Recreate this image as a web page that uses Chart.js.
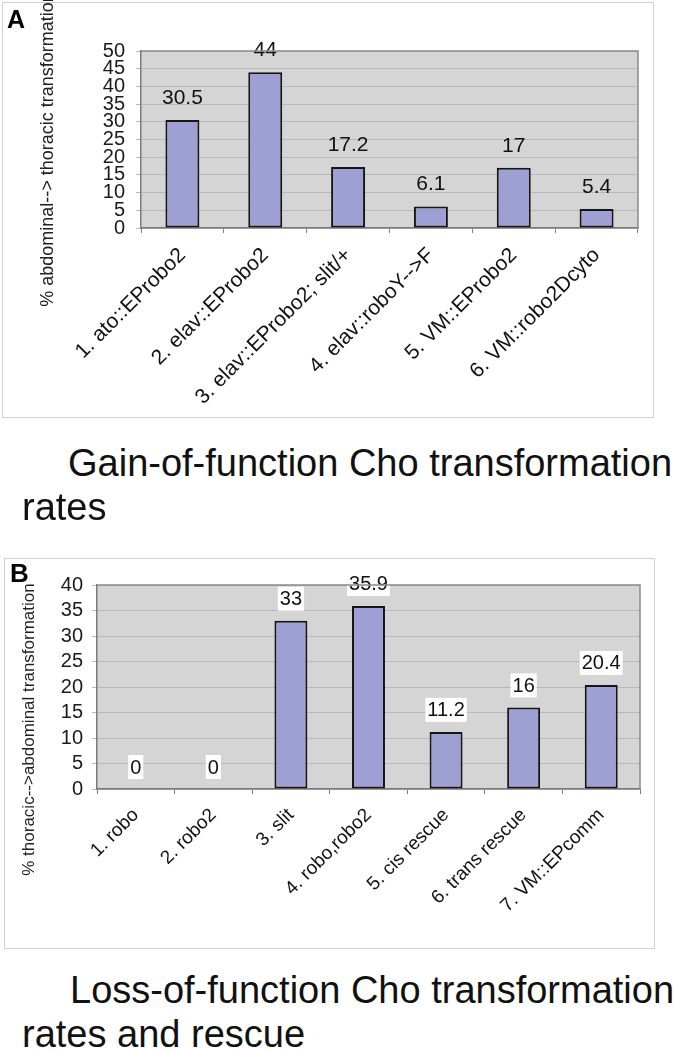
<!DOCTYPE html>
<html><head><meta charset="utf-8">
<script src="https://cdn.jsdelivr.net/npm/chart.js@4.4.1/dist/chart.umd.min.js"></script>
<style>
html,body{margin:0;padding:0;background:#fff;}
body{width:674px;height:1050px;position:relative;overflow:hidden;font-family:"Liberation Sans",Arial,sans-serif;}
.frame{position:absolute;border:1.5px solid #d2d2d2;}
canvas{position:absolute;left:0;}
.cap{position:absolute;font-size:38px;color:#111;white-space:nowrap;line-height:1;}
.panel{position:absolute;font-weight:bold;line-height:1;color:#000;}
</style></head><body>
<div class="frame" style="left:2px;top:2px;width:650px;height:414px"></div>
<div class="frame" style="left:4px;top:558px;width:649px;height:389px"></div>
<canvas id="cA" width="674" height="420" style="top:0"></canvas>
<canvas id="cB" width="674" height="394" style="top:556px"></canvas>
<div class="panel" style="left:7px;top:7px;font-size:25px">A</div>
<div class="panel" style="left:10px;top:560px;font-size:26px">B</div>
<div class="cap" style="left:68px;top:444px">Gain-of-function Cho transformation</div>
<div class="cap" style="left:22px;top:488px">rates</div>
<div class="cap" style="left:70px;top:971px">Loss-of-function Cho transformation</div>
<div class="cap" style="left:22px;top:1015px">rates and rescue</div>
<script>
// ---- data ----
const categoriesA = ['1. ato::EProbo2','2. elav::EProbo2','3. elav::EProbo2; slit/+','4. elav::roboY-->F','5. VM::EProbo2','6. VM::robo2Dcyto'];
const valuesA = [30.5, 44, 17.2, 6.1, 17, 5.4];
const yMinA = 0, yMaxA = 50, yStepA = 5;
const yTitleA = '% abdominal--> thoracic transformation';

const categoriesB = ['1. robo','2. robo2','3. slit','4. robo,robo2','5. cis rescue','6. trans rescue','7. VM::EPcomm'];
const valuesB = [0, 0, 33, 35.9, 11.2, 16, 20.4];
const yMinB = 0, yMaxB = 40, yStepB = 5;
const yTitleB = '% thoracic-->abdominal transformation';

Chart.defaults.font.family = '"Liberation Sans", Arial, sans-serif';
Chart.defaults.color = '#111';

const NB = '\u00a0';

const plotBg = {
  id: 'plotBg',
  beforeDraw(chart) {
    const {ctx, chartArea: a} = chart;
    ctx.save();
    ctx.fillStyle = '#d5d5d5';
    ctx.fillRect(a.left, a.top, a.right - a.left, a.bottom - a.top);
    ctx.restore();
  },
  afterDraw(chart) {
    const {ctx, chartArea: a} = chart;
    ctx.save();
    ctx.strokeStyle = '#8a8a8a';
    ctx.lineWidth = 1.5;
    ctx.beginPath();
    ctx.moveTo(a.left, a.top); ctx.lineTo(a.right, a.top); ctx.lineTo(a.right, a.bottom);
    ctx.stroke();
    ctx.restore();
  }
};

const valueLabels = {
  id: 'valueLabels',
  afterDatasetsDraw(chart, args, opts) {
    const {ctx} = chart;
    const meta = chart.getDatasetMeta(0);
    const data = chart.data.datasets[0].data;
    ctx.save();
    ctx.font = opts.size + 'px "Liberation Sans", Arial, sans-serif';
    ctx.textAlign = 'center';
    ctx.textBaseline = 'middle';
    meta.data.forEach((bar, i) => {
      const txt = String(data[i]);
      const y = bar.y - opts.offset;
      if (opts.box) {
        const w = ctx.measureText(txt).width + 4;
        const h = opts.size + 4;
        ctx.fillStyle = '#fff';
        ctx.fillRect(bar.x - w / 2, y - h / 2, w, h);
      }
      ctx.fillStyle = '#111';
      ctx.fillText(txt, bar.x, y + 1);
    });
    ctx.restore();
  }
};

function makeChart(id, cats, vals, yMin, yMax, yStep, title, o) {
  const canvas = document.getElementById(id);
  return new Chart(canvas, {
    type: 'bar',
    data: {
      labels: cats,
      datasets: [{
        data: vals,
        backgroundColor: '#9ea0d3',
        borderColor: '#151515',
        borderWidth: 2,
        borderSkipped: false,
        categoryPercentage: 1,
        barPercentage: o.barPct
      }]
    },
    options: {
      responsive: false,
      animation: false,
      events: [],
      layout: {padding: {top: o.top, right: o.right, left: 0, bottom: 0}},
      plugins: {
        legend: {display: false},
        tooltip: {enabled: false},
        valueLabels: {size: o.valSize, offset: o.valOffset, box: o.box}
      },
      scales: {
        x: {
          grid: {display: true, drawOnChartArea: false, drawTicks: true, tickLength: 5, color: '#808080', offset: true},
          border: {display: true, color: '#7a7a7a', width: 1.5},
          ticks: {autoSkip: false, minRotation: 45, maxRotation: 45, padding: o.xPad, color: '#111', font: {size: o.xSize}},
          afterFit(s) { s.height = canvas.height - o.bottomY; }
        },
        y: {
          min: yMin, max: yMax,
          grid: {color: '#b8b8b8', lineWidth: 1, drawTicks: true, tickLength: 5},
          border: {display: true, color: '#7a7a7a', width: 1.5},
          ticks: {stepSize: yStep, autoSkip: false, padding: o.yPad, color: '#1a1a1a', font: {size: o.ySize}},
          title: {display: true, text: title, color: '#222', font: {size: o.tSize}, padding: {top: o.tPad, bottom: 0}},
          afterFit(s) { s.width = o.leftX; }
        }
      }
    },
    plugins: [plotBg, valueLabels]
  });
}

makeChart('cA', categoriesA, valuesA, yMinA, yMaxA, yStepA, yTitleA + NB.repeat(4), {
  barPct: 0.41, top: 51, right: 36, bottomY: 228, leftX: 141,
  valSize: 21, valOffset: 23, box: false, xSize: 21, xPad: 10, yPad: 11, ySize: 20, tSize: 18, tPad: 37
});
makeChart('cB', categoriesB, valuesB, yMinB, yMaxB, yStepB, yTitleB + NB.repeat(18), {
  barPct: 0.425, top: 29, right: 34, bottomY: 233, leftX: 97,
  valSize: 20, valOffset: 22, box: true, xSize: 19, xPad: 10, yPad: 9, ySize: 20, tSize: 17, tPad: 19
});
</script>
</body></html>
